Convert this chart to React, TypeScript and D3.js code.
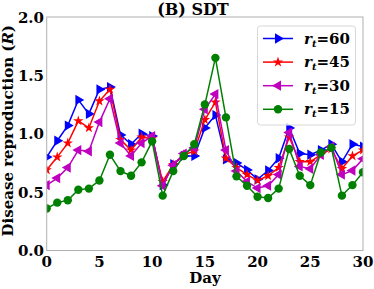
import React from 'react';
import * as d3 from 'd3';

const days = d3.range(0, 31);
const r60 = [0.80, 0.94, 1.07, 1.29, 1.17, 1.38, 1.40, 0.99, 0.91, 1.00, 0.98, 0.56, 0.74, 0.81, 0.81, 1.05, 1.16, 0.78, 0.75, 0.69, 0.61, 0.685, 0.79, 1.05, 0.83, 0.82, 0.86, 0.91, 0.76, 0.91, 0.89];
const r45 = [0.69, 0.80, 0.92, 1.11, 1.05, 1.28, 1.38, 0.95, 0.86, 0.97, 0.96, 0.59, 0.735, 0.82, 0.85, 1.12, 1.27, 0.79, 0.71, 0.65, 0.60, 0.64, 0.71, 0.97, 0.76, 0.76, 0.82, 0.87, 0.70, 0.81, 0.86];
const r30 = [0.56, 0.62, 0.71, 0.86, 0.85, 1.10, 1.30, 0.92, 0.81, 0.92, 0.98, 0.555, 0.73, 0.83, 0.88, 1.21, 1.34, 0.86, 0.68, 0.59, 0.535, 0.555, 0.65, 1.01, 0.72, 0.70, 0.82, 0.89, 0.65, 0.685, 0.785];
const r15 = [0.36, 0.41, 0.43, 0.52, 0.53, 0.60, 0.82, 0.68, 0.64, 0.755, 0.935, 0.47, 0.68, 0.81, 0.91, 1.25, 1.65, 1.14, 0.635, 0.555, 0.46, 0.45, 0.53, 0.87, 0.64, 0.56, 0.84, 0.88, 0.47, 0.56, 0.67];
const xTicks = [0, 5, 10, 15, 20, 25, 30];
const yTicks = [0, 0.5, 1.0, 1.5, 2.0];

const series = [
  { label: '60', values: r60, color: '#0000ff', shape: 'right' },
  { label: '45', values: r45, color: '#ff0000', shape: 'star' },
  { label: '30', values: r30, color: '#bf00bf', shape: 'left' },
  { label: '15', values: r15, color: '#008000', shape: 'circle' },
];

const font = '"DejaVu Serif", serif';

const Marker = ({ shape, x, y, color }) => {
  if (shape === 'circle') {
    return <circle cx={x} cy={y} r={4.2} fill={color} />;
  }
  if (shape === 'star') {
    const d = d3.symbol().type(d3.symbolStar).size(34)();
    return <path d={d} transform={`translate(${x},${y})`} fill={color} />;
  }
  const d = d3.symbol().type(d3.symbolTriangle).size(46)();
  const rot = shape === 'right' ? 90 : -90;
  return <path d={d} transform={`translate(${x},${y}) rotate(${rot})`} fill={color} />;
};

export default function App() {
  const width = 374;
  const height = 289;
  const left = 46.7;
  const right = 363;
  const top = 17;
  const bottom = 250.5;

  const x = d3.scaleLinear().domain([0, 30]).range([left, right]);
  const y = d3.scaleLinear().domain([0, 2]).range([bottom, top]);

  const line = d3.line<number>()
    .x((d, i) => x(days[i]))
    .y((d) => y(d));

  return (
    <svg width={width} height={height} style={{ position: 'absolute', left: 0, top: 0 }}>
      <rect x={0} y={0} width={width} height={height} fill="#fff" />
      <defs>
        <clipPath id="plot">
          <rect x={left} y={top} width={right - left} height={bottom - top} />
        </clipPath>
      </defs>

      <g clipPath="url(#plot)">
        {series.map((s) => (
          <g key={s.label}>
            <path d={line(s.values)} fill="none" stroke={s.color} strokeWidth={1.5} />
            {s.values.map((v, i) => (
              <Marker key={i} shape={s.shape} x={x(days[i])} y={y(v)} color={s.color} />
            ))}
          </g>
        ))}
      </g>

      <rect x={left} y={top} width={right - left} height={bottom - top} fill="none" stroke="#b0b0b0" strokeWidth={1} />

      {xTicks.map((t) => (
        <text key={t} x={x(t)} y={266.5} textAnchor="middle" fontFamily={font} fontWeight="bold" fontSize={15}>
          {t}
        </text>
      ))}
      {yTicks.map((t) => (
        <text key={t} x={44} y={y(t) + 5.5} textAnchor="end" fontFamily={font} fontWeight="bold" fontSize={15}>
          {t.toFixed(1)}
        </text>
      ))}

      <text x={205} y={283} textAnchor="middle" fontFamily={font} fontWeight="bold" fontSize={15}>Day</text>
      <text transform={`translate(13,${(top + bottom) / 2 - 3}) rotate(-90)`} textAnchor="middle" fontFamily={font} fontWeight="bold" fontSize={15}>
        Disease reproduction (<tspan fontStyle="italic">R</tspan>)
      </text>
      <text x={193} y={15} textAnchor="middle" fontFamily={font} fontWeight="bold" fontSize={16}>(B) SDT</text>

      <g>
        <rect x={257.5} y={26} width={98} height={99} rx={3} fill="#fff" fillOpacity={0.8} stroke="#d8d8d8" />
        {series.map((s, i) => {
          const ly = 38.5 + i * 23.6;
          return (
            <g key={s.label}>
              <line x1={263} x2={293} y1={ly} y2={ly} stroke={s.color} strokeWidth={1.5} />
              <Marker shape={s.shape} x={278} y={ly} color={s.color} />
              <text x={304} y={ly + 5} fontFamily={font} fontWeight="bold" fontSize={15}>
                <tspan fontStyle="italic">r</tspan>
                <tspan fontStyle="italic" fontSize={10} dy={3}>t</tspan>
                <tspan dy={-3}>={s.label}</tspan>
              </text>
            </g>
          );
        })}
      </g>
    </svg>
  );
}
